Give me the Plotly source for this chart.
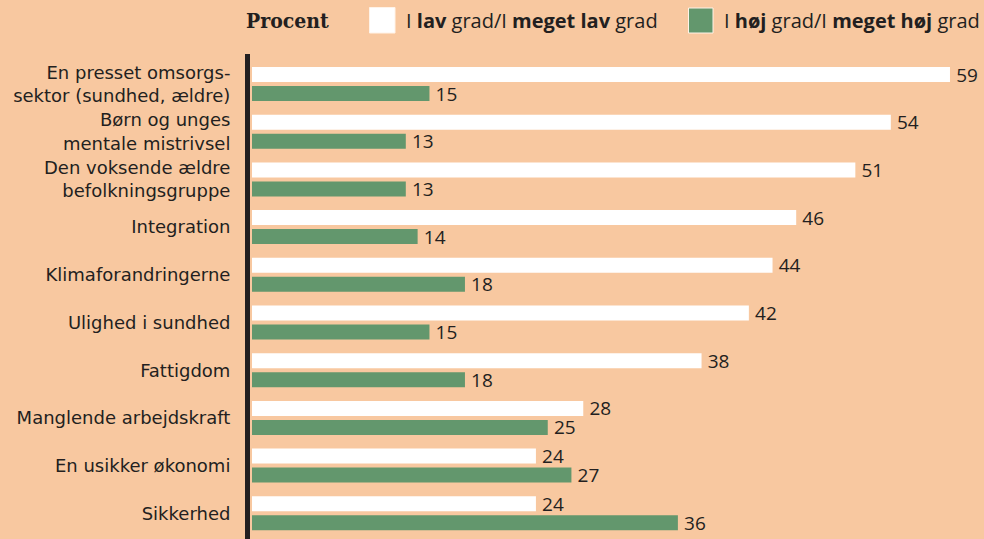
import plotly.graph_objects as go

# data
categories = [
    "En presset omsorgs-<br>sektor (sundhed, ældre)",
    "Børn og unges<br>mentale mistrivsel",
    "Den voksende ældre<br>befolkningsgruppe",
    "Integration",
    "Klimaforandringerne",
    "Ulighed i sundhed",
    "Fattigdom",
    "Manglende arbejdskraft",
    "En usikker økonomi",
    "Sikkerhed",
]
lav = [59, 54, 51, 46, 44, 42, 38, 28, 24, 24]
hoej = [15, 13, 13, 14, 18, 15, 18, 25, 27, 36]

BG = "#F8C8A0"
GREEN = "#63976D"
INK = "#231F20"
FONT = "Open Sans"
TICKFONT = "DejaVu Sans"

W, H = 984, 539
L, R, T, B = 250, 0, 54, 0


def px(x):
    return (x - L) / (W - L - R)


def py(y):
    return (H - B - y) / (H - T - B)


fig = go.Figure()

fig.add_trace(go.Bar(
    y=categories, x=lav, orientation="h",
    width=0.3145, offset=-0.356,
    marker=dict(color="white", line=dict(width=0)),
    text=lav, texttemplate="\u2009%{x}", textposition="outside",
    textfont=dict(family=FONT, size=19, color=INK),
    cliponaxis=False, constraintext="none",
    name="I lav grad/I meget lav grad", hoverinfo="x+y",
))
fig.add_trace(go.Bar(
    y=categories, x=hoej, orientation="h",
    width=0.3145, offset=0.042,
    marker=dict(color=GREEN, line=dict(width=0)),
    text=hoej, texttemplate="\u2009%{x}", textposition="outside",
    textfont=dict(family=FONT, size=19, color=INK),
    cliponaxis=False, constraintext="none",
    name="I høj grad/I meget høj grad", hoverinfo="x+y",
))

# legend drawn by hand
fig.add_annotation(
    x=px(244), y=py(20), xref="paper", yref="paper",
    xanchor="left", yanchor="middle", showarrow=False,
    text="<b>Procent</b>",
    font=dict(family="DejaVu Serif Condensed", size=21, color=INK),
)
fig.add_shape(
    type="rect", xref="paper", yref="paper",
    x0=px(369.5), x1=px(395), y0=py(7.5), y1=py(33),
    fillcolor="white", line=dict(color="#FFF3E8", width=1),
)
fig.add_annotation(
    x=px(404), y=py(20), xref="paper", yref="paper",
    xanchor="left", yanchor="middle", showarrow=False,
    text="I <b>lav</b> grad/I <b>meget lav</b> grad",
    font=dict(family=FONT, size=20, color=INK),
)
fig.add_shape(
    type="rect", xref="paper", yref="paper",
    x0=px(688.5), x1=px(713), y0=py(8), y1=py(33),
    fillcolor=GREEN, line=dict(color="#FFF3E8", width=1),
)
fig.add_annotation(
    x=px(722), y=py(20), xref="paper", yref="paper",
    xanchor="left", yanchor="middle", showarrow=False,
    text="I <b>høj</b> grad/I <b>meget høj</b> grad",
    font=dict(family=FONT, size=20, color=INK),
)

fig.update_layout(
    width=W, height=H,
    margin=dict(l=L, r=R, t=T, b=B, pad=0, autoexpand=False),
    paper_bgcolor=BG, plot_bgcolor=BG,
    barmode="overlay",
    showlegend=False,
    font=dict(family=FONT, size=19, color=INK),
)
fig.update_xaxes(
    range=[-0.17, -0.17 + (W - L - R) / 11.83],
    showgrid=False, zeroline=False, showticklabels=False, showline=False,
    automargin=False,
)
fig.update_yaxes(
    type="category", categoryorder="array", categoryarray=categories,
    range=[9.539, -0.629],
    showgrid=False, zeroline=False,
    showline=True, linecolor=INK, linewidth=5,
    ticks="", ticklabelstandoff=11, automargin=False,
    tickfont=dict(family=TICKFONT, size=18, color=INK),
)

# page body has an 8px default margin; drop it so the chart fills the window
fig.write_html(
    "out.html",
    config={"displayModeBar": False},
    post_script="document.body.style.margin='0';",
)
